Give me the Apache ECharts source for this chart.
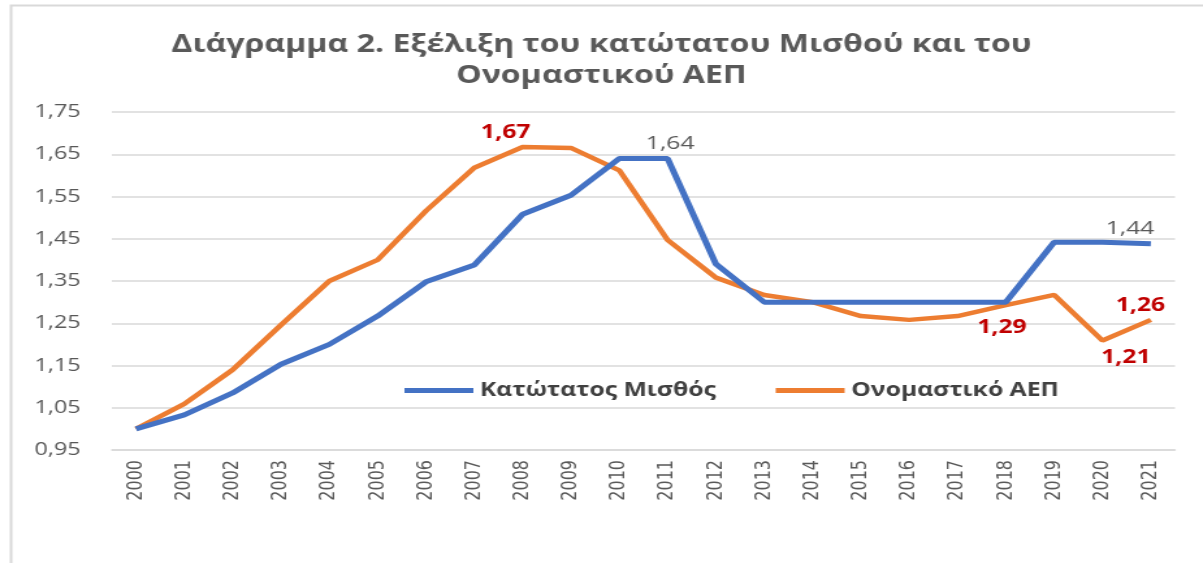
<!DOCTYPE html>
<html><head><meta charset="utf-8">
<script src="https://cdn.jsdelivr.net/npm/echarts@6/dist/echarts.min.js"></script>
<style>
html,body{margin:0;padding:0;background:#fff;overflow:hidden;width:1203px;height:563px}
#c{width:925px;height:563px;transform:scaleX(1.3005);transform-origin:0 0}
</style>
</head><body><div id="c"></div>
<script>
const years = ['2000','2001','2002','2003','2004','2005','2006','2007','2008','2009','2010','2011','2012','2013','2014','2015','2016','2017','2018','2019','2020','2021'];
const minWage = [1.00,1.033,1.085,1.153,1.20,1.267,1.348,1.388,1.508,1.553,1.64,1.64,1.39,1.30,1.30,1.30,1.30,1.30,1.30,1.442,1.442,1.438];
const nominalGDP = [1.00,1.059,1.14,1.246,1.35,1.40,1.516,1.618,1.667,1.665,1.612,1.447,1.358,1.317,1.30,1.267,1.258,1.267,1.293,1.317,1.209,1.258];
const yTicks = [0.95,1.05,1.15,1.25,1.35,1.45,1.55,1.65,1.75];
const seriesNames = ['Κατώτατος Μισθός','Ονομαστικό ΑΕΠ'];
const titleText = 'Διάγραμμα 2. Εξέλιξη του κατώτατου Μισθού και του\nΟνομαστικού ΑΕΠ';
const minWageLabelIdx = [11, 21];
const gdpLabelIdx = [8, 18, 20, 21];

const fmt = v => v.toFixed(2).replace('.', ',');
const labelPlace = {
  's0_11': {position:'top', offset:[2,0]},
  's0_21': {position:'top', offset:[-16,-1]},
  's1_8':  {position:'top', offset:[-13,0]},
  's1_18': {position:'bottom', offset:[-3,8]},
  's1_20': {position:'bottom', offset:[18,3]},
  's1_21': {position:'top', offset:[-8,0]}
};
function buildData(values, idxs, sid, style) {
  return values.map((v, i) => {
    if (idxs.indexOf(i) < 0) return v;
    const p = labelPlace['s' + sid + '_' + i];
    return {value: v, label: Object.assign({show: true, formatter: o => fmt(o.value)}, style, p)};
  });
}
const grayLabel = {color:'#595959', fontSize:19, fontFamily:'Open Sans'};
const redLabel = {color:'#C00000', fontSize:19, fontWeight:'bold', fontFamily:'Open Sans'};

const chart = echarts.init(document.getElementById('c'), null, {renderer:'canvas'});
chart.setOption({
  animation: false,
  backgroundColor: '#ffffff',
  title: {
    text: titleText,
    left: 'center', top: 24,
    textStyle: {fontFamily:'Open Sans', fontSize:24.7, fontWeight:'bold', color:'#595959', lineHeight:31}
  },
  graphic: [{
    type:'rect', left:6, top:3, silent:true,
    shape:{width:1400, height:700},
    style:{fill:'none', stroke:'#d9d9d9', lineWidth:2}
  }],
  legend: {
    left: 306, top: 376,
    icon: 'rect', itemWidth: 53, itemHeight: 5, itemGap: 46,
    textStyle: {fontFamily:'Open Sans', fontSize:19, fontWeight:'bold', color:'#404040'},
    data: seriesNames
  },
  grid: {left:86, right:21.5, top:112, bottom:113, containLabel:false},
  xAxis: {
    type:'category', data: years, boundaryGap: true,
    axisLine:{lineStyle:{color:'#d9d9d9', width:1.5}},
    axisTick:{show:false},
    axisLabel:{rotate:90, margin:10, fontFamily:'DejaVu Sans', fontSize:16, color:'#595959', interval:0}
  },
  yAxis: {
    type:'value', min:0.95, max:1.75,
    axisLine:{show:false},
    axisTick:{show:false, customValues: yTicks},
    axisLabel:{customValues: yTicks, margin:24, fontFamily:'Open Sans', fontSize:18, color:'#595959', formatter: v => fmt(v)},
    splitLine:{lineStyle:{color:'#d9d9d9', width:1.5}}
  },
  series: [
    {name: seriesNames[0], type:'line', data: buildData(minWage, minWageLabelIdx, 0, grayLabel),
     symbol:'circle', symbolSize:0, showSymbol:true, lineStyle:{color:'#4472C4', width:5}, itemStyle:{color:'#4472C4'}, z:3},
    {name: seriesNames[1], type:'line', data: buildData(nominalGDP, gdpLabelIdx, 1, redLabel),
     symbol:'circle', symbolSize:0, showSymbol:true, lineStyle:{color:'#ED7D31', width:4.5}, itemStyle:{color:'#ED7D31'}, z:2}
  ]
});
</script></body></html>
